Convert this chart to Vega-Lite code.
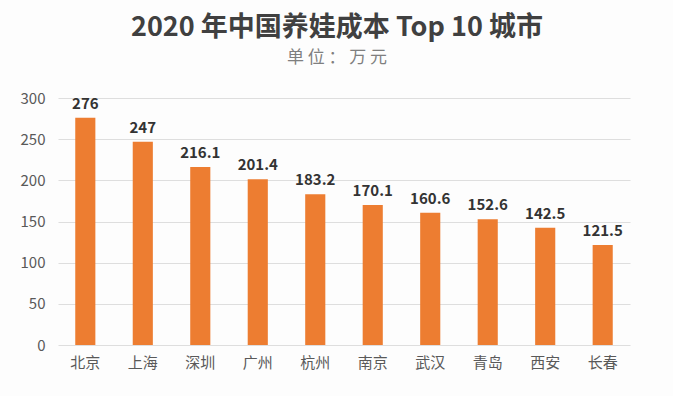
{
  "$schema": "https://vega.github.io/schema/vega-lite/v6.json",
  "autosize": "none",
  "width": 572,
  "height": 247,
  "padding": {"left": 58, "top": 98, "right": 43, "bottom": 51},
  "background": "#fdfdfd",
  "config": {"font": "Noto Sans CJK SC", "view": {"stroke": null}},
  "title": {
    "text": "2020 年中国养娃成本 Top 10 城市",
    "subtitle": "单 位 ： 万 元",
    "anchor": "middle",
    "dx": -7,
    "offset": 24,
    "fontSize": 27,
    "fontWeight": "bold",
    "color": "#404040",
    "subtitleFontSize": 17,
    "subtitleColor": "#7f7f7f",
    "subtitlePadding": 8
  },
  "data": {
    "values": [
      {"city": "北京", "cost": 276, "label": "276"},
      {"city": "上海", "cost": 247, "label": "247"},
      {"city": "深圳", "cost": 216.1, "label": "216.1"},
      {"city": "广州", "cost": 201.4, "label": "201.4"},
      {"city": "杭州", "cost": 183.2, "label": "183.2"},
      {"city": "南京", "cost": 170.1, "label": "170.1"},
      {"city": "武汉", "cost": 160.6, "label": "160.6"},
      {"city": "青岛", "cost": 152.6, "label": "152.6"},
      {"city": "西安", "cost": 142.5, "label": "142.5"},
      {"city": "长春", "cost": 121.5, "label": "121.5"}
    ]
  },
  "encoding": {
    "x": {
      "field": "city",
      "type": "nominal",
      "sort": null,
      "scale": {"paddingInner": 0.65, "paddingOuter": 0.3},
      "axis": {"title": null, "labelAngle": 0, "labelFontSize": 15, "labelColor": "#595959", "domain": false, "ticks": false, "labelPadding": 10}
    },
    "y": {
      "field": "cost",
      "type": "quantitative",
      "scale": {"domain": [0, 300]},
      "axis": {"title": null, "values": [0, 50, 100, 150, 200, 250, 300], "labelOverlap": false, "labelFontSize": 15, "labelColor": "#595959", "domain": false, "ticks": false, "labelPadding": 13, "gridColor": "#dedede", "gridWidth": 1.2}
    }
  },
  "layer": [
    {"mark": {"type": "bar", "color": "#ED7D31"}},
    {
      "mark": {"type": "text", "baseline": "bottom", "dy": -6, "fontSize": 15, "fontWeight": "bold", "color": "#333333"},
      "encoding": {"text": {"field": "label"}}
    }
  ]
}
